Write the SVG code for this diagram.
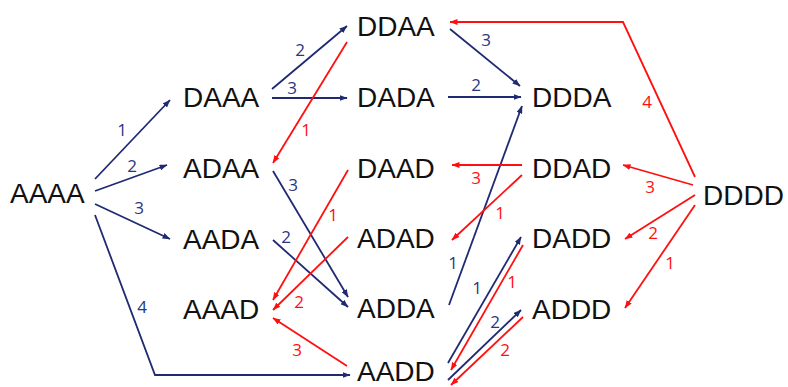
<svg xmlns="http://www.w3.org/2000/svg" width="788" height="387" viewBox="0 0 788 387">
<defs>
<marker id="ab" viewBox="0 0 8 6" refX="7.5" refY="3" markerWidth="8" markerHeight="6" markerUnits="userSpaceOnUse" orient="auto"><path d="M0,0 L8,3 L0,6 z" fill="#1f2a72"/></marker>
<marker id="ar" viewBox="0 0 8 6" refX="7.5" refY="3" markerWidth="8" markerHeight="6" markerUnits="userSpaceOnUse" orient="auto"><path d="M0,0 L8,3 L0,6 z" fill="#ff1010"/></marker>
</defs>
<style>
.n{font-family:"Liberation Sans",Arial,sans-serif;font-size:28px;fill:#111}
.b{stroke:#1f2a72;stroke-width:1.8;fill:none;marker-end:url(#ab)}
.r{stroke:#ff1010;stroke-width:1.8;fill:none;marker-end:url(#ar)}
.lb{font-family:"Open Sans","Liberation Sans",sans-serif;font-size:17px;fill:#2a3580;text-anchor:middle}
.lr{font-family:"Open Sans","Liberation Sans",sans-serif;font-size:17px;fill:#ff1010;text-anchor:middle}
</style>
<rect width="788" height="387" fill="#fff"/>
<g id="connectors">
<line class="b" x1="95" y1="179" x2="170" y2="100"/>
<line class="b" x1="95" y1="191" x2="167" y2="165"/>
<line class="b" x1="95" y1="204" x2="170" y2="239"/>
<polyline class="b" points="95,215 155,375 350,375"/>
<line class="b" x1="272" y1="89" x2="347" y2="26"/>
<line class="b" x1="272" y1="98" x2="347" y2="98"/>
<line class="b" x1="450" y1="29" x2="520" y2="86"/>
<line class="b" x1="448" y1="97" x2="521" y2="97"/>
<line class="b" x1="273" y1="171" x2="348" y2="297"/>
<line class="b" x1="273" y1="240" x2="348" y2="307"/>
<line class="b" x1="449" y1="305" x2="522" y2="106"/>
<line class="b" x1="448" y1="363" x2="521" y2="237"/>
<line class="b" x1="448" y1="380" x2="521" y2="310"/>
<line class="r" x1="347" y1="42" x2="273" y2="163"/>
<line class="r" x1="348" y1="170" x2="273" y2="300"/>
<line class="r" x1="348" y1="237" x2="273" y2="310"/>
<line class="r" x1="347" y1="366" x2="273" y2="318"/>
<line class="r" x1="522" y1="165" x2="452" y2="165"/>
<line class="r" x1="522" y1="175" x2="452" y2="240"/>
<line class="r" x1="523" y1="245" x2="451" y2="370"/>
<line class="r" x1="523" y1="317" x2="451" y2="385"/>
<polyline class="r" points="695,177 623,22 450,22"/>
<line class="r" x1="693" y1="185" x2="623" y2="165"/>
<line class="r" x1="695" y1="195" x2="625" y2="239"/>
<line class="r" x1="695" y1="205" x2="625" y2="308"/>
<text class="lb" x="122" y="136">1</text>
<text class="lb" x="132" y="172">2</text>
<text class="lb" x="139" y="214">3</text>
<text class="lb" x="142" y="313">4</text>
<text class="lb" x="300" y="56">2</text>
<text class="lb" x="292" y="94">3</text>
<text class="lb" x="486" y="46">3</text>
<text class="lb" x="476" y="91">2</text>
<text class="lb" x="293" y="191">3</text>
<text class="lb" x="286" y="243">2</text>
<text class="lb" x="453" y="269">1</text>
<text class="lb" x="477" y="294">1</text>
<text class="lb" x="495" y="328">2</text>
<text class="lr" x="306" y="136">1</text>
<text class="lr" x="333" y="221">1</text>
<text class="lr" x="299" y="308">2</text>
<text class="lr" x="297" y="356">3</text>
<text class="lr" x="476" y="184">3</text>
<text class="lr" x="500" y="219">1</text>
<text class="lr" x="512" y="288">1</text>
<text class="lr" x="505" y="356">2</text>
<text class="lr" x="647" y="108">4</text>
<text class="lr" x="650" y="193">3</text>
<text class="lr" x="653" y="239">2</text>
<text class="lr" x="670" y="269">1</text>
</g>
<g id="AAAA"><text class="n" x="10" y="203">AAAA</text></g>
<g id="DAAA"><text class="n" x="183" y="107">DAAA</text></g>
<g id="ADAA"><text class="n" x="183" y="178">ADAA</text></g>
<g id="AADA"><text class="n" x="183" y="249">AADA</text></g>
<g id="AAAD"><text class="n" x="183" y="319">AAAD</text></g>
<g id="DDAA"><text class="n" x="357" y="36">DDAA</text></g>
<g id="DADA"><text class="n" x="357" y="107">DADA</text></g>
<g id="DAAD"><text class="n" x="357" y="178">DAAD</text></g>
<g id="ADAD"><text class="n" x="357" y="248">ADAD</text></g>
<g id="ADDA"><text class="n" x="357" y="318">ADDA</text></g>
<g id="AADD"><text class="n" x="357" y="381">AADD</text></g>
<g id="DDDA"><text class="n" x="532" y="107">DDDA</text></g>
<g id="DDAD"><text class="n" x="532" y="178">DDAD</text></g>
<g id="DADD"><text class="n" x="532" y="248">DADD</text></g>
<g id="ADDD"><text class="n" x="532" y="319">ADDD</text></g>
<g id="DDDD"><text class="n" x="703" y="205">DDDD</text></g>
</svg>
